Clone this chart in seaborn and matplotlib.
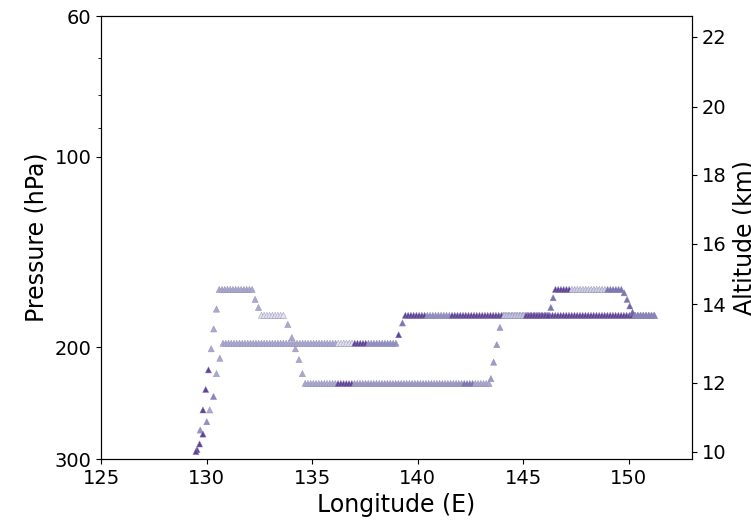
import matplotlib
matplotlib.use("Agg")
import matplotlib.pyplot as plt
from matplotlib.ticker import NullFormatter, NullLocator, FixedLocator, FixedFormatter
import seaborn as sns
import pandas as pd

# ---------------- data ----------------
# Track 1
t1_lon = [129.55, 129.70, 129.83, 129.96, 130.09, 130.22, 130.34, 130.47,
          130.60, 130.73, 130.86, 130.99, 131.12, 131.25, 131.38, 131.51, 131.64, 131.77, 131.90, 132.03, 132.16,
          132.30, 132.46,
          132.60, 132.73, 132.86, 132.99, 133.12, 133.25, 133.38, 133.51, 133.64,
          133.85, 134.04, 134.21, 134.38, 134.54,
          134.67, 134.80, 134.93, 135.06, 135.19, 135.32, 135.45, 135.58, 135.71, 135.84, 135.97, 136.10,
          136.23, 136.36, 136.49, 136.62, 136.75, 136.88,
          137.01, 137.14, 137.27, 137.40, 137.53, 137.66, 137.79, 137.92, 138.05, 138.18, 138.31, 138.44,
          138.57, 138.70, 138.83, 138.96, 139.09, 139.22, 139.35, 139.48, 139.61, 139.74, 139.87, 140.00,
          140.13, 140.26, 140.39, 140.52, 140.65, 140.78, 140.91, 141.04, 141.17, 141.30, 141.43, 141.56,
          141.69, 141.82, 141.95, 142.08,
          142.21, 142.34, 142.47, 142.60,
          142.73, 142.86, 142.99, 143.12, 143.25, 143.38,
          143.47, 143.60, 143.75, 143.90,
          144.05, 144.18, 144.31, 144.44, 144.57, 144.70, 144.83, 144.96, 145.09,
          145.22, 145.35, 145.48, 145.61, 145.74, 145.87, 146.00, 146.13, 146.26, 146.39, 146.52, 146.65,
          146.78, 146.91, 147.04, 147.17, 147.30, 147.43, 147.56, 147.69, 147.82, 147.95, 148.08, 148.21,
          148.34, 148.47, 148.60, 148.73, 148.86, 148.99, 149.12, 149.25, 149.38, 149.51, 149.64, 149.77,
          149.90, 150.03, 150.16,
          150.29, 150.42, 150.55, 150.68, 150.81, 150.94, 151.07, 151.20]
t1_pres = [290, 270, 251, 233, 217, 201, 187, 174,
           162, 162, 162, 162, 162, 162, 162, 162, 162, 162, 162, 162, 162,
           168, 173,
           178, 178, 178, 178, 178, 178, 178, 178, 178,
           184, 193, 201, 209, 220,
           228, 228, 228, 228, 228, 228, 228, 228, 228, 228, 228, 228,
           228, 228, 228, 228, 228, 228,
           228, 228, 228, 228, 228, 228, 228, 228, 228, 228, 228, 228,
           228, 228, 228, 228, 228, 228, 228, 228, 228, 228, 228, 228,
           228, 228, 228, 228, 228, 228, 228, 228, 228, 228, 228, 228,
           228, 228, 228, 228,
           228, 228, 228, 228,
           228, 228, 228, 228, 228, 228,
           224, 211, 198, 186,
           178, 178, 178, 178, 178, 178, 178, 178, 178,
           178, 178, 178, 178, 178, 178, 178, 178, 178, 178, 178, 178,
           178, 178, 178, 178, 178, 178, 178, 178, 178, 178, 178, 178,
           178, 178, 178, 178, 178, 178, 178, 178, 178, 178, 178, 178,
           178, 178, 178,
           178, 178, 178, 178, 178, 178, 178, 178]
t1_col = [16, 11, 16, 16, 16, 9, 9, 9,
          9, 9, 9, 9, 9, 9, 9, 9, 9, 9, 9, 9, 9,
          9, 9,
          4, 4, 4, 4, 4, 4, 4, 4, 4,
          9, 9, 9, 9, 9,
          9, 9, 9, 9, 9, 9, 9, 9, 9, 9, 9, 9,
          16, 16, 16, 16, 16, 16,
          10, 10, 10, 10, 10, 10, 10, 10, 10, 10, 10, 10,
          10, 10, 10, 10, 10, 10, 10, 10, 10, 10, 10, 10,
          10, 10, 10, 10, 10, 10, 10, 10, 10, 10, 10, 10,
          10, 10, 10, 10,
          13, 13, 13, 13,
          9, 9, 9, 9, 9, 9,
          10, 10, 10, 10,
          8, 8, 8, 8, 8, 8, 8, 8, 8,
          16, 16, 16, 16, 16, 16, 16, 16, 16, 16, 16, 16,
          16, 16, 16, 16, 16, 16, 16, 16, 16, 16, 16, 16,
          16, 16, 16, 16, 16, 16, 16, 16, 16, 16, 16, 16,
          16, 16, 16,
          13, 13, 13, 13, 13, 13, 13, 13]

# Track 2
t2_lon = [129.50, 129.67, 129.83, 130.01, 130.15, 130.33, 130.47, 130.63,
          130.78, 130.91, 131.04, 131.17, 131.30, 131.43, 131.56, 131.69, 131.82, 131.95, 132.08, 132.21,
          132.34, 132.47, 132.60, 132.73, 132.86, 132.99, 133.12, 133.25, 133.38, 133.51, 133.64, 133.77,
          133.90, 134.03, 134.16, 134.29, 134.42, 134.55, 134.68, 134.81, 134.94, 135.07, 135.20, 135.33,
          135.46, 135.59, 135.72, 135.85, 135.98, 136.11,
          136.24, 136.37, 136.50, 136.63, 136.76, 136.89,
          137.02, 137.15, 137.28, 137.41, 137.54,
          137.67, 137.80, 137.93, 138.06, 138.19, 138.32, 138.45, 138.58, 138.71, 138.84, 138.97,
          139.10, 139.28,
          139.42, 139.55, 139.68, 139.81, 139.94, 140.07, 140.20, 140.33,
          140.46, 140.59, 140.72, 140.85, 140.98, 141.11, 141.24, 141.37, 141.50,
          141.63, 141.76, 141.89, 142.02, 142.15, 142.28, 142.41, 142.54, 142.67, 142.80, 142.93, 143.06,
          143.19, 143.32, 143.45, 143.58, 143.71, 143.84, 143.97,
          144.10, 144.23, 144.36, 144.49, 144.62, 144.75, 144.88, 145.01,
          145.14, 145.27, 145.40, 145.53, 145.66, 145.79, 145.92, 146.05, 146.18,
          146.31, 146.42,
          146.53, 146.66, 146.79, 146.92, 147.05, 147.18,
          147.31, 147.44, 147.57, 147.70, 147.83, 147.96, 148.09, 148.22, 148.35, 148.48, 148.61, 148.74, 148.87,
          149.00, 149.13, 149.26, 149.39, 149.52, 149.65,
          149.78, 149.92, 150.05, 150.18,
          150.31, 150.44, 150.57, 150.70, 150.83, 150.96, 151.09, 151.22]
t2_pres = [292, 284, 274, 262, 251, 239, 220, 208,
           197, 197, 197, 197, 197, 197, 197, 197, 197, 197, 197, 197,
           197, 197, 197, 197, 197, 197, 197, 197, 197, 197, 197, 197,
           197, 197, 197, 197, 197, 197, 197, 197, 197, 197, 197, 197,
           197, 197, 197, 197, 197, 197,
           197, 197, 197, 197, 197, 197,
           197, 197, 197, 197, 197,
           197, 197, 197, 197, 197, 197, 197, 197, 197, 197, 197,
           191, 183,
           178, 178, 178, 178, 178, 178, 178, 178,
           178, 178, 178, 178, 178, 178, 178, 178, 178,
           178, 178, 178, 178, 178, 178, 178, 178, 178, 178, 178, 178,
           178, 178, 178, 178, 178, 178, 178,
           178, 178, 178, 178, 178, 178, 178, 178,
           178, 178, 178, 178, 178, 178, 178, 178, 178,
           173, 167,
           162, 162, 162, 162, 162, 162,
           162, 162, 162, 162, 162, 162, 162, 162, 162, 162, 162, 162, 162,
           162, 162, 162, 162, 162, 162,
           164, 168, 172, 176,
           178, 178, 178, 178, 178, 178, 178, 178]
t2_col = [16, 16, 16, 11, 9, 12, 9, 9,
          9, 9, 9, 9, 9, 9, 9, 9, 9, 9, 9, 9,
          9, 9, 9, 9, 9, 9, 9, 9, 9, 9, 9, 9,
          9, 9, 9, 9, 9, 9, 9, 9, 9, 9, 9, 9,
          9, 9, 9, 9, 9, 9,
          4, 4, 4, 4, 4, 4,
          16, 16, 16, 16, 16,
          11, 11, 11, 11, 11, 11, 11, 11, 11, 11, 11,
          16, 13,
          16, 16, 16, 16, 16, 16, 16, 16,
          11, 11, 11, 11, 11, 11, 11, 11, 11,
          16, 16, 16, 16, 16, 16, 16, 16, 16, 16, 16, 16,
          16, 16, 16, 16, 16, 16, 16,
          7, 7, 7, 7, 7, 7, 7, 7,
          16, 16, 16, 16, 16, 16, 16, 16, 16,
          13, 13,
          16, 16, 16, 16, 16, 16,
          6, 6, 6, 6, 6, 6, 6, 6, 6, 6, 6, 6, 6,
          13, 13, 13, 13, 13, 13,
          13, 13, 14, 14,
          12, 12, 12, 12, 12, 12, 12, 12]

# axis ticks
x_ticks = [125, 130, 135, 140, 145, 150]
p_ticks = [60, 100, 200, 300]
alt_labels = [10, 12, 14, 16, 18, 20, 22]
alt_tick_pressure = [292.2, 227.4, 170.9, 137.3, 106.9, 83.4, 64.7]

# ---------------- plot ----------------
df = pd.concat([
    pd.DataFrame({"lon": t1_lon, "pres": t1_pres, "c": t1_col}),
    pd.DataFrame({"lon": t2_lon, "pres": t2_pres, "c": t2_col}),
], ignore_index=True)

fig = plt.figure(figsize=(7.51, 5.25), dpi=100)
ax = fig.add_axes([0.1345, 0.1257, 0.787, 0.8438])

sns.scatterplot(data=df, x="lon", y="pres", hue="c", palette="Purples",
                hue_norm=(0, 20), marker="^", s=20, linewidth=0.3,
                edgecolor="#8f8caf", legend=False, ax=ax)

ax.set_yscale("log")
ax.set_ylim(300, 60)
ax.set_xlim(125, 153)
ax.yaxis.set_major_locator(FixedLocator(p_ticks))
ax.yaxis.set_major_formatter(FixedFormatter([str(v) for v in p_ticks]))
ax.yaxis.set_minor_formatter(NullFormatter())
ax.set_xticks(x_ticks)
ax.tick_params(labelsize=14)
ax.set_xlabel("Longitude (E)", fontsize=17)
ax.set_ylabel("Pressure (hPa)", fontsize=17)

ax2 = ax.twinx()
ax2.set_yscale("log")
ax2.set_ylim(300, 60)
ax2.yaxis.set_major_locator(FixedLocator(alt_tick_pressure))
ax2.yaxis.set_major_formatter(FixedFormatter([str(v) for v in alt_labels]))
ax2.yaxis.set_minor_locator(NullLocator())
ax2.tick_params(labelsize=14)
ax2.set_ylabel("Altitude (km)", fontsize=17)

fig.savefig("out.png", dpi=100)
